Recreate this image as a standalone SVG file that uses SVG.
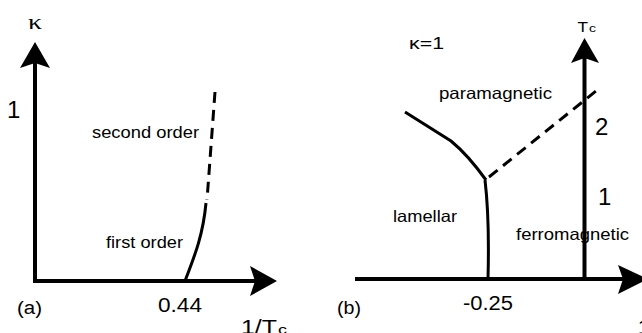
<svg xmlns="http://www.w3.org/2000/svg" width="642" height="333" viewBox="0 0 642 333">
<style>
.axis{stroke:#000;stroke-width:4;fill:none}
.head{fill:#000;stroke:none}
.solid{stroke:#000;stroke-width:3;fill:none;stroke-linecap:butt}
.dash{stroke:#000;stroke-width:3;fill:none;stroke-dasharray:11 7}
.t{font-family:"Liberation Sans",Arial,sans-serif;fill:#000}
.s{font-family:"Liberation Serif","Times New Roman",serif;fill:#000}
</style>
<rect width="642" height="333" fill="#fff"/>
<g id="panel-a">
  <g id="axes-a">
    <line class="axis" x1="35" y1="283" x2="35" y2="60"/>
    <line class="axis" x1="33" y1="281" x2="256" y2="281"/>
    <path class="head" d="M35,42 L50,68 L35,63 L20,68 Z"/>
    <path class="head" d="M277,281 L250,296 L255,281 L250,266 Z"/>
  </g>
  <g id="curves-a">
    <path class="solid" d="M185,281 C195,255 203,235 206,203"/>
    <path class="dash" d="M215,92 L207,200"/>
  </g>
  <g id="labels-a">
    <text class="s" x="28" y="29" font-size="20" textLength="14" lengthAdjust="spacingAndGlyphs">κ</text>
    <text class="t" x="7" y="118" font-size="24">1</text>
    <text class="t" x="92" y="137.5" font-size="16.5" textLength="107" lengthAdjust="spacingAndGlyphs">second order</text>
    <text class="t" x="106" y="248" font-size="16.5" textLength="77" lengthAdjust="spacingAndGlyphs">first order</text>
    <text class="t" x="158" y="312" font-size="19.5" textLength="44" lengthAdjust="spacingAndGlyphs">0.44</text>
    <text class="t" x="17" y="314" font-size="18" textLength="25" lengthAdjust="spacingAndGlyphs">(a)</text>
    <text class="t" x="241" y="333.5" font-size="20" textLength="36" lengthAdjust="spacingAndGlyphs">1/T</text>
    <text class="t" x="278" y="333.5" font-size="13" textLength="9" lengthAdjust="spacingAndGlyphs">c</text>
  </g>
</g>
<g id="panel-b">
  <g id="axes-b">
    <line class="axis" x1="355" y1="279" x2="624" y2="279"/>
    <line class="axis" x1="584.5" y1="281" x2="584.5" y2="58"/>
    <path class="head" d="M584.5,38 L599,63 L584.5,58 L571,63 Z"/>
    <path class="head" d="M648,279 L618,294 L623,279 L618,265 Z"/>
  </g>
  <g id="curves-b">
    <path class="solid" d="M405,112 L451,141 Q468,155 486,180"/>
    <path class="solid" d="M485,180 C488,205 489,240 488,279"/>
    <path class="dash" d="M489,177 L601,87"/>
  </g>
  <g id="labels-b">
    <text class="t" x="409" y="49" font-size="16" textLength="35" lengthAdjust="spacingAndGlyphs">κ=1</text>
    <text class="t" x="577.5" y="31.5" font-size="14" textLength="10.5" lengthAdjust="spacingAndGlyphs">T</text>
    <text class="t" x="589" y="31.5" font-size="11" textLength="7" lengthAdjust="spacingAndGlyphs">c</text>
    <text class="t" x="439" y="99" font-size="16.5" textLength="113" lengthAdjust="spacingAndGlyphs">paramagnetic</text>
    <text class="t" x="595" y="135" font-size="24">2</text>
    <text class="t" x="598" y="205" font-size="24">1</text>
    <text class="t" x="393" y="222" font-size="16.5" textLength="64" lengthAdjust="spacingAndGlyphs">lamellar</text>
    <text class="t" x="516" y="240" font-size="16.5" textLength="113" lengthAdjust="spacingAndGlyphs">ferromagnetic</text>
    <text class="t" x="463" y="310" font-size="19.5" textLength="50" lengthAdjust="spacingAndGlyphs">-0.25</text>
    <text class="t" x="337" y="314" font-size="18" textLength="24" lengthAdjust="spacingAndGlyphs">(b)</text>
    <text class="t" x="637.5" y="333.5" font-size="20" textLength="36" lengthAdjust="spacingAndGlyphs">1/T</text>
  </g>
</g>
</svg>
